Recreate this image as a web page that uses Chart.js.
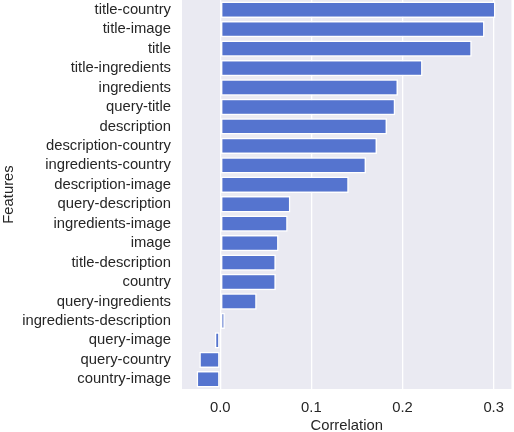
<!DOCTYPE html>
<html>
<head>
<meta charset="utf-8">
<script src="https://cdn.jsdelivr.net/npm/chart.js@4"></script>
<style>
  body { margin: 0; background: #fff; }
  canvas { display: block; }
</style>
</head>
<body>
<canvas id="myChart" width="514" height="432"></canvas>
<script>
const features = ['title-country', 'title-image', 'title', 'title-ingredients', 'ingredients',
  'query-title', 'description', 'description-country', 'ingredients-country', 'description-image',
  'query-description', 'ingredients-image', 'image', 'title-description', 'country',
  'query-ingredients', 'ingredients-description', 'query-image', 'query-country', 'country-image'];
const correlation = [0.302, 0.290, 0.276, 0.222, 0.195, 0.192, 0.183, 0.172, 0.160, 0.141,
  0.077, 0.074, 0.064, 0.061, 0.061, 0.040, 0.005, -0.006, -0.023, -0.026];
const xTicks = [0.0, 0.1, 0.2, 0.3];

const txt = '#262626';
const fontName = '"Liberation Sans", Arial, sans-serif';

// seaborn-like grey plot background
const bgPlugin = {
  id: 'bg',
  beforeDraw(chart) {
    const a = chart.chartArea, c = chart.ctx;
    c.save();
    c.fillStyle = '#eaeaf2';
    c.fillRect(a.left, a.top, a.right - a.left, a.bottom - a.top);
    c.restore();
  }
};

const ctx = document.getElementById('myChart').getContext('2d');
const myChart = new Chart(ctx, {
  type: 'bar',
  data: {
    labels: features,
    datasets: [{
      data: correlation,
      backgroundColor: '#5574cf',
      borderColor: '#ffffff',
      borderWidth: 1.5,
      borderSkipped: false,
      barPercentage: 0.84,
      categoryPercentage: 1.0
    }]
  },
  options: {
    indexAxis: 'y',
    responsive: false,
    animation: false,
    layout: { padding: { top: 0, right: 1, left: 0, bottom: 0 } },
    plugins: { legend: { display: false }, tooltip: { enabled: false } },
    scales: {
      x: {
        min: -0.042,
        max: 0.3195,
        afterBuildTicks(axis) { axis.ticks = xTicks.map(v => ({ value: v })); },
        afterFit(axis) { axis.height = 43; },
        grid: { color: '#ffffff', lineWidth: 1.3, drawTicks: false },
        border: { display: false },
        ticks: {
          padding: 10,
          color: txt,
          font: { family: fontName, size: 14.8 },
          callback: v => v.toFixed(1)
        },
        title: {
          display: true,
          text: 'Correlation',
          color: txt,
          font: { family: fontName, size: 14.8, lineHeight: 0.8 },
          padding: { top: 4, bottom: 0 }
        }
      },
      y: {
        afterFit(axis) {
          axis.width = 182;
          axis.paddingTop = 0;
          axis.paddingBottom = 0;
        },
        grid: { display: false, drawTicks: false },
        border: { display: false },
        ticks: {
          padding: 11,
          color: txt,
          font: { family: fontName, size: 14.8 },
          autoSkip: false
        },
        title: {
          display: true,
          text: 'Features',
          color: txt,
          font: { family: fontName, size: 14.8 },
          padding: { top: 0, bottom: 0 }
        }
      }
    }
  },
  plugins: [bgPlugin]
});
</script>
</body>
</html>
